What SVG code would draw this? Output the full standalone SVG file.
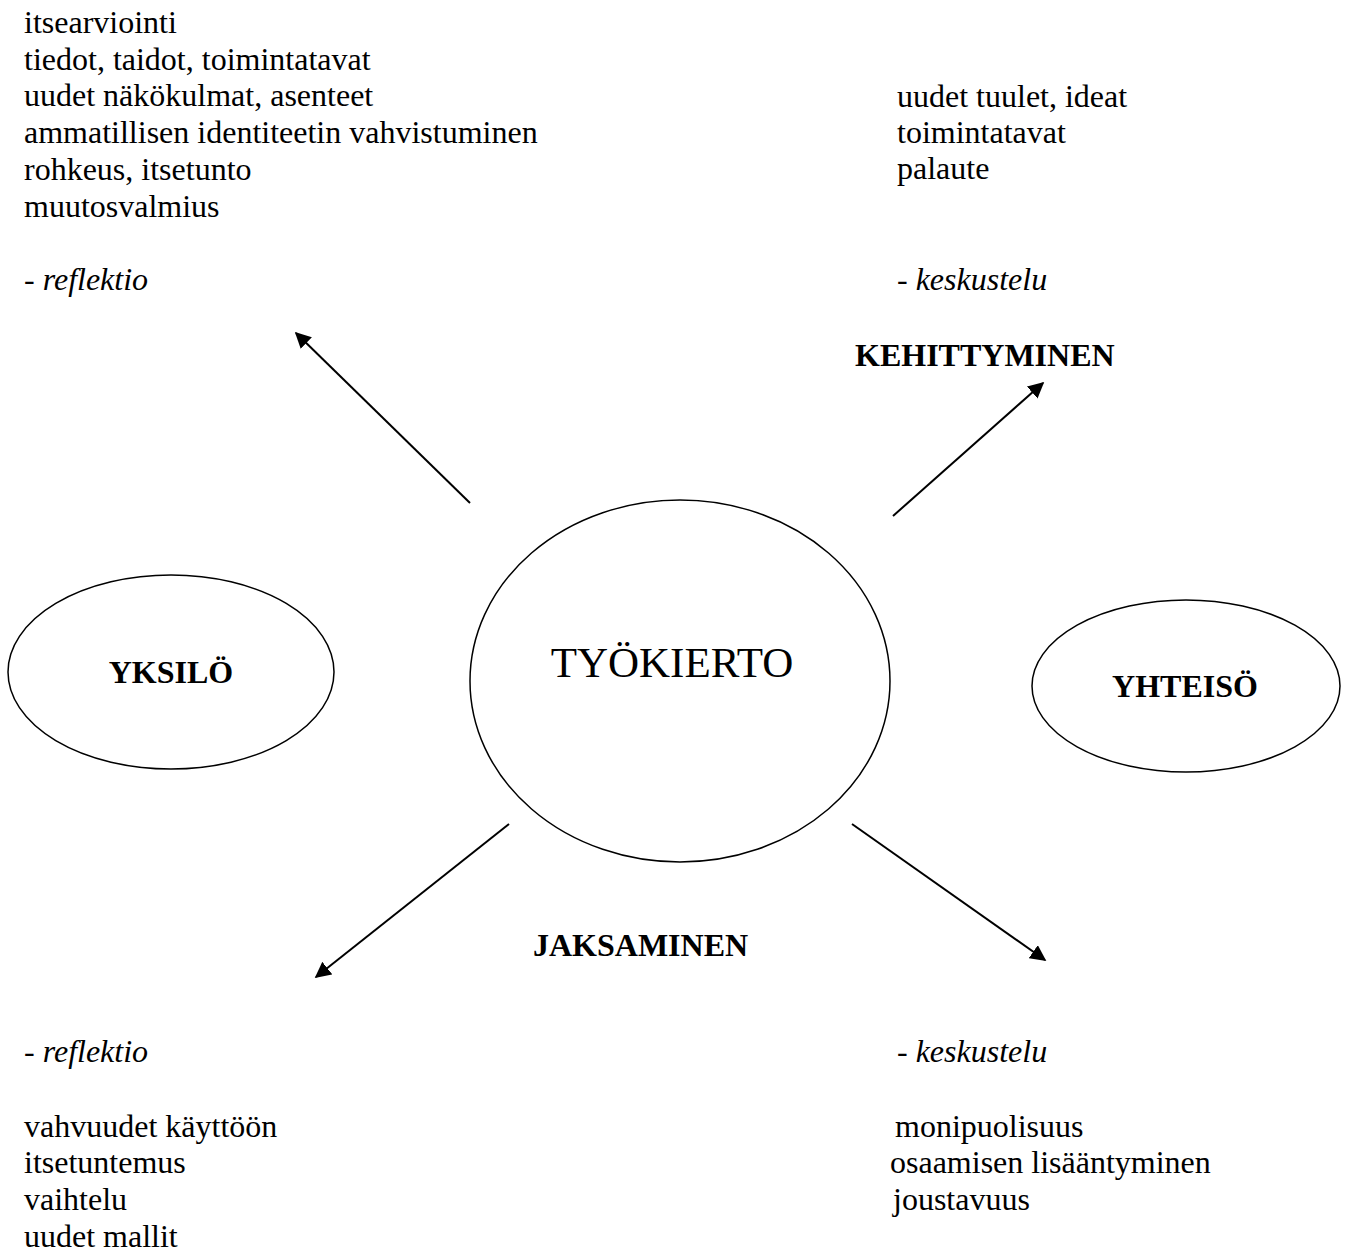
<svg xmlns="http://www.w3.org/2000/svg" width="1348" height="1253" viewBox="0 0 1348 1253">
<style>
text{font-family:"Liberation Serif","Times New Roman",serif;font-size:32px;fill:#000}
.b{font-weight:bold}
.i{font-style:italic}
.node{fill:#fff;stroke:#000;stroke-width:1.5}
.c line{stroke:#000;stroke-width:2;marker-end:url(#ah)}
</style>
<defs>
<marker id="ah" viewBox="0 0 10 10" refX="9" refY="5" markerWidth="8" markerHeight="8" markerUnits="userSpaceOnUse" orient="auto">
<path d="M0,0 L10,5 L0,10 z" fill="#000"/>
</marker>
<marker id="ah2" viewBox="0 0 10 10" refX="9" refY="5" markerWidth="16" markerHeight="16" markerUnits="userSpaceOnUse" orient="auto">
<path d="M0,0 L10,5 L0,10 z" fill="#000"/>
</marker>
</defs>
<rect width="1348" height="1253" fill="#fff"/>
<g id="text-top-left">
<text x="24" y="33">itsearviointi</text>
<text x="24" y="70">tiedot, taidot, toimintatavat</text>
<text x="24" y="106">uudet näkökulmat, asenteet</text>
<text x="24" y="143">ammatillisen identiteetin vahvistuminen</text>
<text x="24" y="180">rohkeus, itsetunto</text>
<text x="24" y="217">muutosvalmius</text>
<text x="24" y="290">- <tspan class="i">reflektio</tspan></text>
</g>
<g id="text-top-right">
<text x="897" y="107">uudet tuulet, ideat</text>
<text x="897" y="143">toimintatavat</text>
<text x="897" y="179">palaute</text>
<text x="897" y="290">- <tspan class="i">keskustelu</tspan></text>
<text x="855" y="366" class="b">KEHITTYMINEN</text>
</g>
<g id="yksilo">
<ellipse class="node" cx="171" cy="672" rx="163" ry="97"/>
<text x="171" y="683" class="b" text-anchor="middle">YKSILÖ</text>
</g>
<g id="tyokierto">
<ellipse class="node" cx="680" cy="681" rx="210" ry="181"/>
<text x="672" y="677" text-anchor="middle" style="font-size:43px">TYÖKIERTO</text>
</g>
<g id="yhteiso">
<ellipse class="node" cx="1186" cy="686" rx="154" ry="86"/>
<text x="1185" y="697" class="b" text-anchor="middle">YHTEISÖ</text>
</g>
<g id="connectors" class="c">
<line x1="470" y1="503" x2="296" y2="333" style="marker-end:url(#ah2)"/>
<line x1="893" y1="516" x2="1043" y2="383" style="marker-end:url(#ah2)"/>
<line x1="509" y1="824" x2="316" y2="977" style="marker-end:url(#ah2)"/>
<line x1="852" y1="824" x2="1045" y2="960" style="marker-end:url(#ah2)"/>
</g>
<text x="533" y="956" class="b">JAKSAMINEN</text>
<g id="text-bottom-left">
<text x="24" y="1062">- <tspan class="i">reflektio</tspan></text>
<text x="24" y="1137">vahvuudet käyttöön</text>
<text x="24" y="1173">itsetuntemus</text>
<text x="24" y="1210">vaihtelu</text>
<text x="24" y="1247">uudet mallit</text>
</g>
<g id="text-bottom-right">
<text x="897" y="1062">- <tspan class="i">keskustelu</tspan></text>
<text x="895" y="1137">monipuolisuus</text>
<text x="890" y="1173">osaamisen lisääntyminen</text>
<text x="893" y="1210">joustavuus</text>
</g>
</svg>
